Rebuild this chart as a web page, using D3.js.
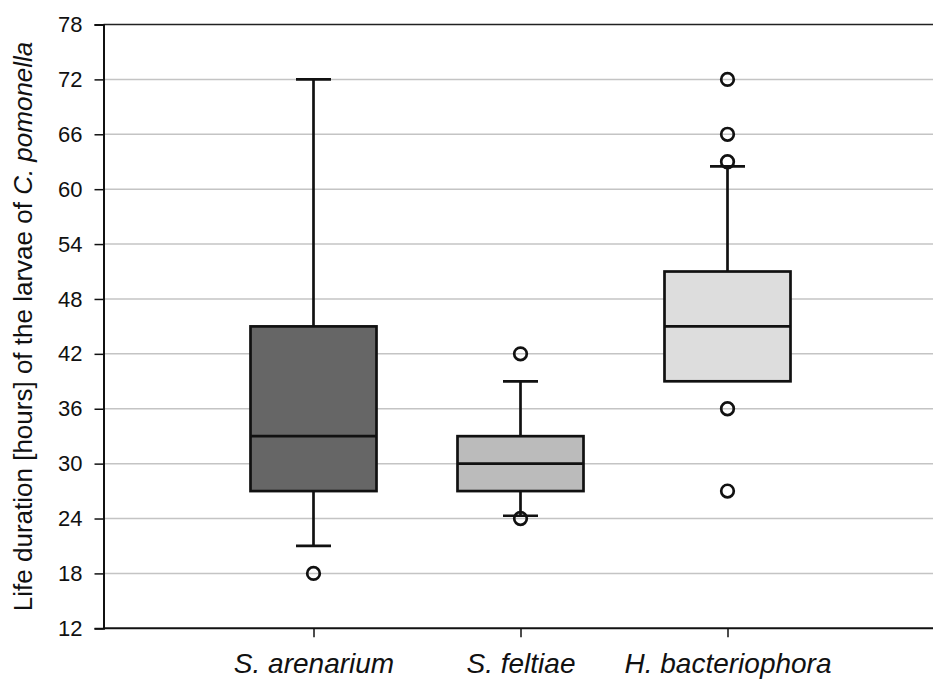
<!DOCTYPE html>
<html><head><meta charset="utf-8">
<script src="https://cdn.jsdelivr.net/npm/d3@7"></script>
<style>body{margin:0;background:#fff}svg{display:block}</style>
</head><body>
<svg id="c" width="933" height="680"></svg>
<script>
const categories = ["S. arenarium", "S. feltiae", "H. bacteriophora"];
const q1 = [27, 27, 39];
const median = [33, 30, 45];
const q3 = [45, 33, 51];
const whiskerLow = [21, 24.3, 39];
const whiskerHigh = [72, 39, 62.5];
const outliers = [[18], [42, 24], [72, 66, 63, 36, 27]];
const fills = ["#666666", "#bbbbbb", "#dddddd"];
const yTicks = [12, 18, 24, 30, 36, 42, 48, 54, 60, 66, 72, 78];

const svg = d3.select("#c");
const mLeft = 103.5, mRight = 940, mTop = 24.5, mBottom = 628.3;
const font = "'Liberation Sans', Arial, sans-serif";

const y = d3.scaleLinear().domain([12, 78]).range([mBottom, mTop]);
const x = d3.scalePoint().domain(categories).range([313.5, 727.5]);

// gridlines
svg.append("g").selectAll("line").data(yTicks.filter(t => t > 12 && t < 78)).join("line")
  .attr("x1", mLeft).attr("x2", mRight)
  .attr("y1", d => y(d)).attr("y2", d => y(d))
  .attr("stroke", "#c4c4c4").attr("stroke-width", 1.5);
// top frame line
svg.append("line").attr("x1", mLeft).attr("x2", mRight).attr("y1", y(78)).attr("y2", y(78))
  .attr("stroke", "#222").attr("stroke-width", 1.5);

// y axis
const yAxis = svg.append("g").attr("transform", `translate(${mLeft},0)`)
  .call(d3.axisLeft(y).tickValues(yTicks).tickSize(9).tickPadding(12).tickFormat(d3.format("d")));
yAxis.select(".domain").attr("stroke", "#111").attr("stroke-width", 2);
yAxis.selectAll(".tick line").attr("stroke", "#111").attr("stroke-width", 1.5);
yAxis.selectAll("text").attr("font-family", font).attr("font-size", 22).attr("fill", "#111");

// x axis
const xAxis = svg.append("g").attr("transform", `translate(0,${mBottom})`)
  .call(d3.axisBottom(x).tickSize(9).tickPadding(16));
xAxis.select(".domain").attr("d", `M${mLeft},0H${mRight}`).attr("stroke", "#111").attr("stroke-width", 2);
xAxis.selectAll(".tick line").attr("stroke", "#111").attr("stroke-width", 1.5);
xAxis.selectAll("text").attr("font-family", font).attr("font-size", 28)
  .attr("font-style", "italic").attr("fill", "#111");

// y label
const lab = svg.append("text")
  .attr("transform", `translate(32,${(mTop + mBottom) / 2}) rotate(-90)`)
  .attr("text-anchor", "middle").attr("font-family", font).attr("font-size", 26).attr("fill", "#111");
lab.append("tspan").text("Life duration [hours] of the larvae of ");
lab.append("tspan").attr("font-style", "italic").text("C. pomonella");

// boxes
const boxW = 126, capW = 35;
const g = svg.append("g").attr("stroke", "#111").attr("stroke-width", 2.7);
categories.forEach((c, i) => {
  const cx = x(c);
  if (whiskerHigh[i] > q3[i]) {
    g.append("line").attr("x1", cx).attr("x2", cx).attr("y1", y(q3[i])).attr("y2", y(whiskerHigh[i]));
    g.append("line").attr("x1", cx - capW / 2).attr("x2", cx + capW / 2).attr("y1", y(whiskerHigh[i])).attr("y2", y(whiskerHigh[i]));
  }
  if (whiskerLow[i] < q1[i]) {
    g.append("line").attr("x1", cx).attr("x2", cx).attr("y1", y(q1[i])).attr("y2", y(whiskerLow[i]));
    g.append("line").attr("x1", cx - capW / 2).attr("x2", cx + capW / 2).attr("y1", y(whiskerLow[i])).attr("y2", y(whiskerLow[i]));
  }
  g.append("rect").attr("x", cx - boxW / 2).attr("width", boxW)
    .attr("y", y(q3[i])).attr("height", y(q1[i]) - y(q3[i])).attr("fill", fills[i]);
  g.append("line").attr("x1", cx - boxW / 2).attr("x2", cx + boxW / 2).attr("y1", y(median[i])).attr("y2", y(median[i]));
  g.selectAll(null).data(outliers[i]).join("circle")
    .attr("cx", cx).attr("cy", d => y(d)).attr("r", 6.3).attr("fill", "none");
});
</script>
</body></html>
